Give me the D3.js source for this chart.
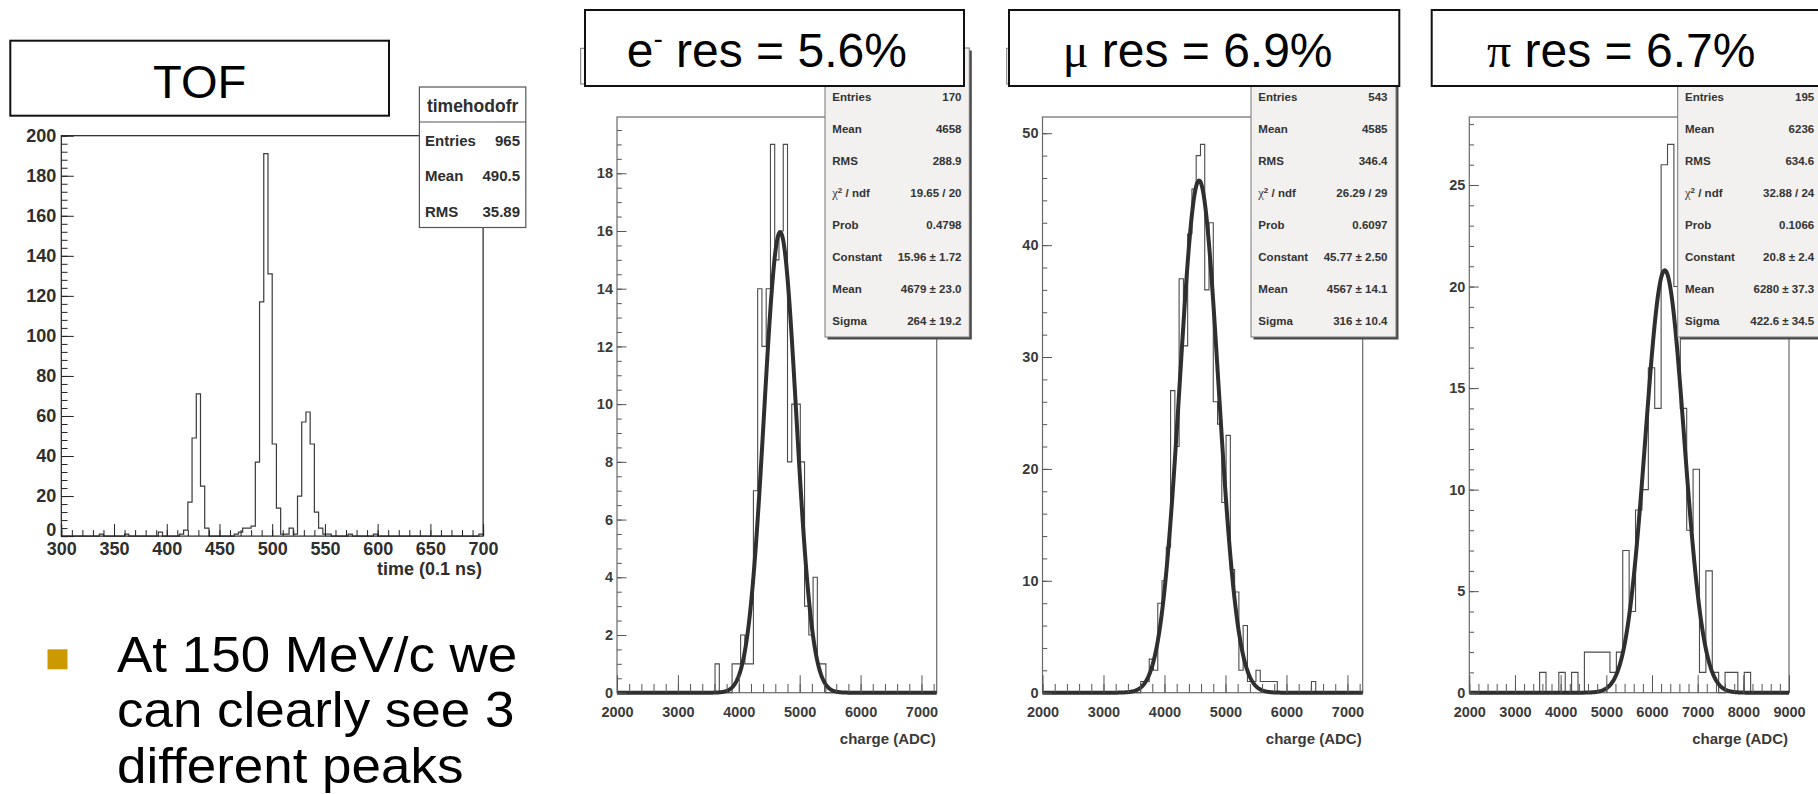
<!DOCTYPE html>
<html>
<head>
<meta charset="utf-8">
<script src="https://cdn.jsdelivr.net/npm/d3@7"></script>
<style>
  html, body { margin: 0; padding: 0; background: #fff; }
  svg { display: block; }
</style>
</head>
<body>
<svg id="slide" width="1818" height="794"></svg>
<script>
// ---- data ----

// TOF: 100 bins of 4 (0.1 ns) between 300 and 700
const tofRange = [300, 700]
const tofBinWidth = 4
const tofCounts = [
  0, 0, 0, 0, 0, 0, 0, 0, 0, 1,
  0, 0, 0, 0, 0, 1, 0, 0, 0, 0,
  0, 0, 0, 2, 0, 0, 0, 0, 1, 3,
  17, 49, 71, 25, 4, 0, 0, 0, 0, 0,
  0, 1, 2, 4, 4, 5, 37, 117, 191, 131,
  46, 14, 1, 1, 4, 1, 20, 57, 62, 46,
  12, 4, 1, 1, 0, 0, 0, 0, 1, 0,
  0, 0, 0, 0, 1, 0, 0, 0, 0, 0,
  0, 0, 0, 0, 0, 0, 0, 0, 0, 0,
  0, 0, 0, 0, 0, 0, 0, 0, 0, 1
]
const tofStatLabels = ['Entries', 'Mean', 'RMS']
const tofStatValues = ['965', '490.5', '35.89']

// charge spectra: e- and mu use 75 bins of 70 ADC from 2000, pi 50 bins of 140 ADC
const eleCounts = [
  0, 0, 0, 0, 0, 0, 0, 0, 0, 0,
  0, 0, 0, 0, 0, 0, 0, 0, 0, 0,
  0, 0, 0, 1, 0, 0, 0, 1, 1, 2,
  1, 1, 7, 14, 12, 14, 19, 15, 16, 19,
  8, 10, 10, 8, 3, 2, 4, 1, 1, 0,
  0, 0, 0, 0, 0, 0, 0, 0, 0, 0,
  0, 0, 0, 0, 0, 0, 0, 0, 0, 0,
  0, 0, 0, 0, 0
]
const muCounts = [
  0, 0, 0, 0, 0, 0, 0, 0, 0, 0,
  0, 0, 0, 0, 0, 0, 0, 0, 0, 0,
  0, 0, 0, 1, 1, 3, 2, 8, 10, 13,
  27, 22, 37, 31, 41, 45, 48, 49, 36, 42,
  26, 24, 17, 23, 11, 9, 2, 6, 1, 1,
  2, 1, 1, 1, 1, 0, 0, 0, 0, 0,
  0, 0, 0, 1, 0, 0, 0, 0, 0, 0,
  0, 0, 0, 0, 0
]
const piCounts = [
  0, 0, 0, 0, 0, 0, 0, 0, 0, 0,
  0, 1, 0, 0, 1, 0, 1, 0, 2, 2,
  2, 2, 1, 2, 7, 4, 9, 10, 16, 14,
  26, 27, 20, 14, 8, 11, 1, 6, 1, 0,
  1, 1, 0, 1, 0, 0, 0, 0, 0, 0
]

// gaussian fit parameters [constant, mean, sigma]
const eleFit = [15.96, 4679, 264]
const muFit = [45.77, 4567, 316]
const piFit = [20.8, 6280, 422.6]

const fitStatLabels = ['Entries', 'Mean', 'RMS', 'χ² / ndf', 'Prob', 'Constant', 'Mean', 'Sigma']
const eleStatValues = ['170', '4658', '288.9', '19.65 / 20', '0.4798', '15.96 ± 1.72', '4679 ± 23.0', '264 ± 19.2']
const muStatValues = ['543', '4585', '346.4', '26.29 / 29', '0.6097', '45.77 ± 2.50', '4567 ± 14.1', '316 ± 10.4']
const piStatValues = ['195', '6236', '634.6', '32.88 / 24', '0.1066', '20.8 ± 2.4', '6280 ± 37.3', '422.6 ± 34.5']

const bulletLines = ['At 150 MeV/c we', 'can clearly see 3', 'different peaks']

// ---- drawing ----
const FONT = '"Liberation Sans", Arial, Helvetica, sans-serif'
const SERIF = '"Liberation Serif", "Times New Roman", serif'
const svg = d3.select('#slide')

function histPath(counts, lo, width, x, y) {
  const pts = [[lo, 0]]
  counts.forEach((c, i) => pts.push([lo + i * width, c]))
  pts.push([lo + counts.length * width, counts[counts.length - 1]])
  return d3.line().curve(d3.curveStepAfter)
    .x(d => x(d[0])).y(d => y(d[1]))(pts)
}

function drawAxes(g, x, y, o) {
  const bottom = y.range()[0]
  const left = x.range()[0]
  const styleTicks = sel => {
    sel.select('.domain').remove()
    sel.selectAll('line').attr('stroke', o.tickColor).attr('stroke-width', 1)
  }
  const styleText = sel => sel.selectAll('text')
    .attr('font-family', FONT).attr('font-weight', 'bold')
    .attr('font-size', o.font).attr('fill', o.textColor)

  g.append('g').attr('transform', `translate(0,${bottom})`)
    .call(d3.axisBottom(x).tickValues(o.xMinor).tickSizeInner(-o.xTick / 2)
      .tickSizeOuter(0).tickFormat(''))
    .call(styleTicks)
  g.append('g').attr('transform', `translate(0,${bottom})`)
    .call(d3.axisBottom(x).tickValues(o.xMajor).tickSizeInner(-o.xTick)
      .tickSizeOuter(0).tickPadding(o.xPad).tickFormat(d3.format('d')))
    .call(styleTicks).call(styleText)
  g.append('g').attr('transform', `translate(${left},0)`)
    .call(d3.axisLeft(y).tickValues(o.yMinor).tickSizeInner(-o.yTick / 2)
      .tickSizeOuter(0).tickFormat(''))
    .call(styleTicks)
  g.append('g').attr('transform', `translate(${left},0)`)
    .call(d3.axisLeft(y).tickValues(o.yMajor).tickSizeInner(-o.yTick)
      .tickSizeOuter(0).tickPadding(o.yPad).tickFormat(d3.format('d')))
    .call(styleTicks).call(styleText)
}

function titleBox(x0, y0, w, h, stroke) {
  svg.append('rect').attr('x', x0).attr('y', y0).attr('width', w).attr('height', h)
    .attr('fill', '#fff').attr('stroke', stroke || '#111').attr('stroke-width', 2)
}

// ---------- TOF panel ----------
const tofX = d3.scaleLinear().domain(tofRange).range([61.3, 483.1])
const tofY = d3.scaleLinear().domain([0, 200]).range([536.1, 135.7])
const tof = svg.append('g')

tof.append('path')
  .attr('d', histPath(tofCounts, tofRange[0], tofBinWidth, tofX, tofY))
  .attr('fill', 'none').attr('stroke', '#3a3a3a').attr('stroke-width', 1.2)

tof.append('rect')
  .attr('x', tofX.range()[0]).attr('y', tofY.range()[1])
  .attr('width', tofX.range()[1] - tofX.range()[0])
  .attr('height', tofY.range()[0] - tofY.range()[1])
  .attr('fill', 'none').attr('stroke', '#222').attr('stroke-width', 1.2)

drawAxes(tof, tofX, tofY, {
  xMajor: d3.range(300, 701, 50), xMinor: d3.range(300, 701, 10),
  yMajor: d3.range(0, 201, 20), yMinor: d3.range(0, 201, 4),
  xTick: 12, yTick: 12.5, xPad: 6, yPad: 5, font: 18,
  tickColor: '#222', textColor: '#2e2e2e'
})
// the "0" of the y axis sits right on top of "300" in the original; lift it a little
tof.selectAll('text').filter(function () { return this.textContent === '0' })
  .attr('dy', '-0.05em')
tof.append('text').attr('x', 482).attr('y', 575).attr('text-anchor', 'end')
  .attr('font-family', FONT).attr('font-weight', 'bold').attr('font-size', 18)
  .attr('fill', '#2e2e2e').text('time (0.1 ns)')

// TOF stat box
const tsb = svg.append('g')
tsb.append('rect').attr('x', 419.4).attr('y', 87).attr('width', 106.4).attr('height', 140.5)
  .attr('fill', '#fff').attr('stroke', '#555').attr('stroke-width', 1.2)
tsb.append('line').attr('x1', 419.4).attr('x2', 525.8).attr('y1', 122).attr('y2', 122)
  .attr('stroke', '#555').attr('stroke-width', 1)
tsb.append('text').attr('x', 472.6).attr('y', 112).attr('text-anchor', 'middle')
  .attr('font-family', FONT).attr('font-weight', 'bold').attr('font-size', 17.5)
  .attr('fill', '#2e2e2e').text('timehodofr')
tofStatLabels.forEach((lab, i) => {
  const yy = 146 + i * 35.4
  tsb.append('text').attr('x', 425).attr('y', yy)
    .attr('font-family', FONT).attr('font-weight', 'bold').attr('font-size', 15)
    .attr('fill', '#2e2e2e').text(lab)
  tsb.append('text').attr('x', 520).attr('y', yy).attr('text-anchor', 'end')
    .attr('font-family', FONT).attr('font-weight', 'bold').attr('font-size', 15)
    .attr('fill', '#2e2e2e').text(tofStatValues[i])
})

// TOF slide title
titleBox(10.3, 40.7, 378.7, 75)
svg.append('text').attr('x', 199.6).attr('y', 97.5).attr('text-anchor', 'middle')
  .attr('font-family', FONT).attr('font-size', 47).attr('fill', '#000').text('TOF')

// ---------- charge panels ----------
const chargePanels = [
  { counts: eleCounts, lo: 2000, bw: 70, fit: eleFit, stats: eleStatValues,
    xr: [617, 936.7], hi: 7250, ymax: 19.95,
    yMajor: d3.range(0, 19, 2), yMinor: d3.range(0, 19.96, 0.5), xMajor: d3.range(2000, 7001, 1000),
    box: [825, 144.3], rootTitle: 580.7, titleBoxX: [585, 964], titleX: 626.7, particle: 'e' },
  { counts: muCounts, lo: 2000, bw: 70, fit: muFit, stats: muStatValues,
    xr: [1042.5, 1362.7], hi: 7250, ymax: 51.45,
    yMajor: d3.range(0, 51, 10), yMinor: d3.range(0, 51.46, 2), xMajor: d3.range(2000, 7001, 1000),
    box: [1251, 145], rootTitle: 1006.7, titleBoxX: [1009, 1399.3], titleX: 1062.7, particle: 'μ' },
  { counts: piCounts, lo: 2000, bw: 140, fit: piFit, stats: piStatValues,
    xr: [1469.3, 1789], hi: 9000, ymax: 28.35,
    yMajor: d3.range(0, 26, 5), yMinor: d3.range(0, 28.36, 1), xMajor: d3.range(2000, 9001, 1000),
    box: [1677.7, 145], rootTitle: null, titleBoxX: [1431.7, 1830], titleX: 1487, particle: 'π' }
]
const resolution = ['5.6%', '6.9%', '6.7%']

chargePanels.forEach((p, k) => {
  const x = d3.scaleLinear().domain([p.lo, p.hi]).range(p.xr)
  const y = d3.scaleLinear().domain([0, p.ymax]).range([692.7, 117])
  const g = svg.append('g')

  g.append('rect').attr('x', p.xr[0]).attr('y', 117)
    .attr('width', p.xr[1] - p.xr[0]).attr('height', 692.7 - 117)
    .attr('fill', 'none').attr('stroke', '#6a6a6a').attr('stroke-width', 1.2)

  g.append('path').attr('d', histPath(p.counts, p.lo, p.bw, x, y))
    .attr('fill', 'none').attr('stroke', '#4a4a4a').attr('stroke-width', 1.1)

  const [amp, mean, sigma] = p.fit
  const xs = d3.range(p.lo, p.hi + 1, (p.hi - p.lo) / 600)
  g.append('path')
    .attr('d', d3.line().x(d => x(d)).y(d => y(amp * Math.exp(-0.5 * ((d - mean) / sigma) ** 2)))(xs))
    .attr('fill', 'none').attr('stroke', '#2f2f2f').attr('stroke-width', 4)
    .attr('stroke-linejoin', 'round')

  drawAxes(g, x, y, {
    xMajor: p.xMajor, xMinor: d3.range(p.lo, p.hi + 1, 200),
    yMajor: p.yMajor, yMinor: p.yMinor,
    xTick: 17.5, yTick: 9.5, xPad: 14.5, yPad: 4, font: 14.5,
    tickColor: '#555', textColor: '#3a3a3a'
  })
  g.append('text').attr('x', p.xr[1] - 1).attr('y', 743.5).attr('text-anchor', 'end')
    .attr('font-family', FONT).attr('font-weight', 'bold').attr('font-size', 15)
    .attr('fill', '#3a3a3a').text('charge (ADC)')

  // ROOT stat box (top part sits behind the slide title)
  const bx = p.box[0], bw = p.box[1]
  g.append('rect').attr('x', bx + 2.5).attr('y', 50.5).attr('width', bw).attr('height', 289)
    .attr('fill', '#4a4a4a')
  g.append('rect').attr('x', bx).attr('y', 48).attr('width', bw).attr('height', 289)
    .attr('fill', '#f2f1ef').attr('stroke', '#777').attr('stroke-width', 1)
  fitStatLabels.forEach((lab, i) => {
    const yy = 100.5 + i * 32
    const t = g.append('text').attr('x', bx + 7.3).attr('y', yy)
      .attr('font-family', FONT).attr('font-weight', 'bold').attr('font-size', 11.5)
      .attr('fill', '#333')
    if (lab.startsWith('χ')) {
      t.append('tspan').attr('font-family', SERIF).attr('font-weight', 'normal').attr('font-size', 12.5).text('χ')
      t.append('tspan').attr('font-size', 8).attr('dy', -4).text('2')
      t.append('tspan').attr('dy', 4).text(' / ndf')
    } else {
      t.text(lab)
    }
    g.append('text').attr('x', bx + 136.5).attr('y', yy).attr('text-anchor', 'end')
      .attr('font-family', FONT).attr('font-weight', 'bold').attr('font-size', 11.5)
      .attr('fill', '#333').text(p.stats[i])
  })

  // ROOT histogram title pave peeking out on the left
  if (p.rootTitle !== null) {
    svg.append('rect').attr('x', p.rootTitle).attr('y', 48.3).attr('width', 120).attr('height', 35.7)
      .attr('fill', '#fff').attr('stroke', '#777').attr('stroke-width', 1)
  }

  // slide title box
  titleBox(p.titleBoxX[0], 10, p.titleBoxX[1] - p.titleBoxX[0], 76)
  const t = svg.append('text').attr('x', p.titleX).attr('y', 66.7)
    .attr('font-family', FONT).attr('font-size', 48).attr('fill', '#000')
  if (p.particle === 'e') {
    t.append('tspan').text('e')
    t.append('tspan').attr('font-size', 28).attr('dy', -19).text('-')
    t.append('tspan').attr('dy', 19).text(' res = ' + resolution[k])
  } else {
    t.append('tspan').attr('font-family', SERIF).text(p.particle)
    t.append('tspan').text(' res = ' + resolution[k])
  }
})

// ---------- bullet text ----------
svg.append('rect').attr('x', 47.5).attr('y', 649.3).attr('width', 20).attr('height', 20)
  .attr('fill', '#cc9900')
// slightly widened so the three lines keep the slide's width without their boxes touching
const bulletBaselines = [672, 727.3, 782.6]
bulletLines.forEach((line, i) => {
  svg.append('text')
    .attr('transform', `translate(117,${bulletBaselines[i]}) scale(1.07,1)`)
    .attr('font-family', FONT).attr('font-size', 49.5).attr('fill', '#000').text(line)
})
</script>
</body>
</html>
